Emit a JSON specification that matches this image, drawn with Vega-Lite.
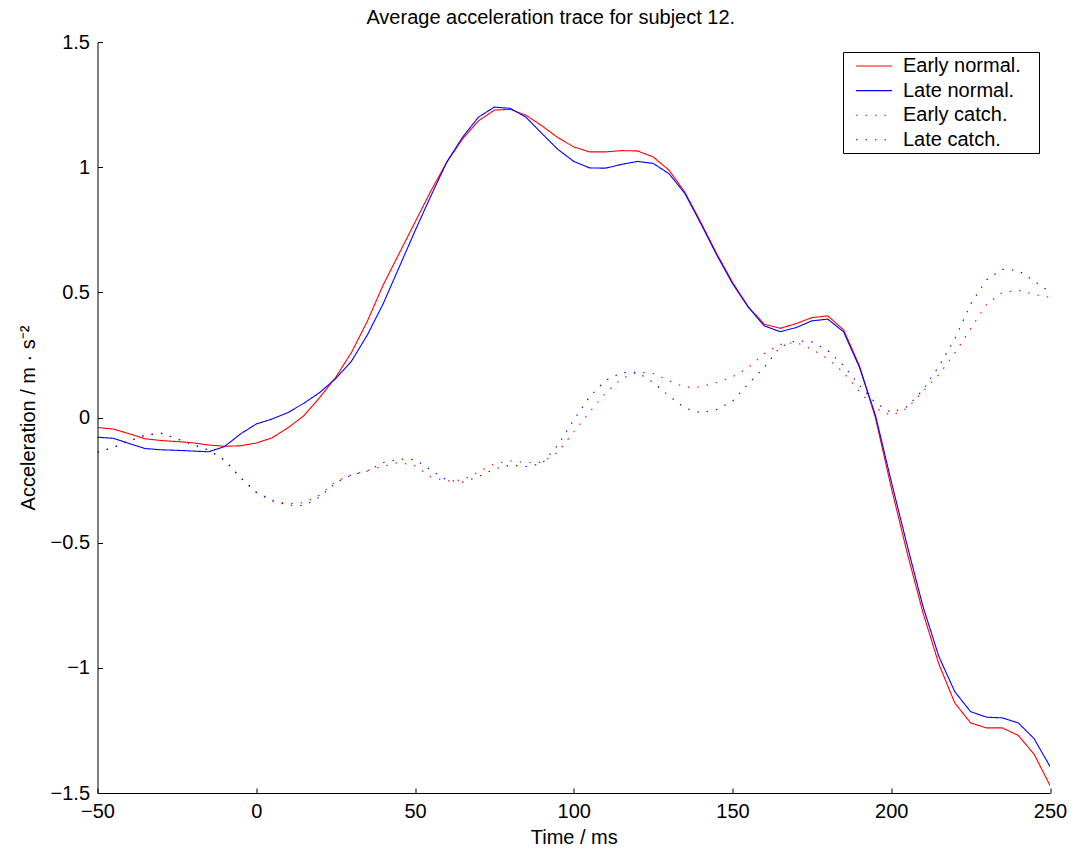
{
 "$schema": "https://vega.github.io/schema/vega-lite/v6.json",
 "autosize": {"type": "none"},
 "width": 952.5,
 "height": 751,
 "padding": {"left": 97.5, "top": 42, "right": 26, "bottom": 57},
 "background": "white",
 "title": {"text": "Average acceleration trace for subject 12.", "fontSize": 20, "font": "Liberation Sans", "fontWeight": "normal", "color": "black", "anchor": "middle", "offset": 4, "dx": -23},
 "config": {"view": {"stroke": null}, "font": "Liberation Sans"},
 "data": {"values": [
  {"t": -50, "en": -0.040, "ln": -0.079, "ec": -0.139, "lc": -0.139},
  {"t": -45, "en": -0.046, "ln": -0.083, "ec": -0.120, "lc": -0.120},
  {"t": -40, "en": -0.065, "ln": -0.104, "ec": -0.093, "lc": -0.093},
  {"t": -35, "en": -0.085, "ln": -0.124, "ec": -0.071, "lc": -0.071},
  {"t": -30, "en": -0.092, "ln": -0.129, "ec": -0.062, "lc": -0.063},
  {"t": -25, "en": -0.096, "ln": -0.131, "ec": -0.085, "lc": -0.085},
  {"t": -20, "en": -0.101, "ln": -0.134, "ec": -0.107, "lc": -0.108},
  {"t": -15, "en": -0.110, "ln": -0.137, "ec": -0.130, "lc": -0.130},
  {"t": -10, "en": -0.115, "ln": -0.116, "ec": -0.170, "lc": -0.170},
  {"t": -5, "en": -0.113, "ln": -0.066, "ec": -0.240, "lc": -0.240},
  {"t": 0, "en": -0.102, "ln": -0.026, "ec": -0.298, "lc": -0.300},
  {"t": 5, "en": -0.081, "ln": -0.006, "ec": -0.330, "lc": -0.333},
  {"t": 10, "en": -0.041, "ln": 0.020, "ec": -0.345, "lc": -0.350},
  {"t": 15, "en": 0.007, "ln": 0.057, "ec": -0.340, "lc": -0.352},
  {"t": 20, "en": 0.080, "ln": 0.100, "ec": -0.310, "lc": -0.318},
  {"t": 25, "en": 0.160, "ln": 0.155, "ec": -0.255, "lc": -0.260},
  {"t": 30, "en": 0.260, "ln": 0.225, "ec": -0.229, "lc": -0.230},
  {"t": 35, "en": 0.385, "ln": 0.330, "ec": -0.212, "lc": -0.214},
  {"t": 40, "en": 0.530, "ln": 0.455, "ec": -0.195, "lc": -0.180},
  {"t": 45, "en": 0.655, "ln": 0.600, "ec": -0.179, "lc": -0.166},
  {"t": 50, "en": 0.780, "ln": 0.745, "ec": -0.193, "lc": -0.168},
  {"t": 55, "en": 0.905, "ln": 0.885, "ec": -0.237, "lc": -0.210},
  {"t": 60, "en": 1.020, "ln": 1.020, "ec": -0.254, "lc": -0.250},
  {"t": 65, "en": 1.113, "ln": 1.120, "ec": -0.250, "lc": -0.258},
  {"t": 70, "en": 1.185, "ln": 1.200, "ec": -0.217, "lc": -0.236},
  {"t": 75, "en": 1.228, "ln": 1.240, "ec": -0.185, "lc": -0.206},
  {"t": 80, "en": 1.231, "ln": 1.235, "ec": -0.173, "lc": -0.190},
  {"t": 85, "en": 1.207, "ln": 1.199, "ec": -0.180, "lc": -0.196},
  {"t": 90, "en": 1.165, "ln": 1.134, "ec": -0.179, "lc": -0.184},
  {"t": 95, "en": 1.118, "ln": 1.071, "ec": -0.138, "lc": -0.110},
  {"t": 100, "en": 1.081, "ln": 1.023, "ec": -0.058, "lc": -0.010},
  {"t": 105, "en": 1.061, "ln": 0.997, "ec": 0.022, "lc": 0.083},
  {"t": 110, "en": 1.061, "ln": 0.996, "ec": 0.097, "lc": 0.148},
  {"t": 115, "en": 1.066, "ln": 1.011, "ec": 0.155, "lc": 0.179},
  {"t": 120, "en": 1.065, "ln": 1.023, "ec": 0.181, "lc": 0.181},
  {"t": 125, "en": 1.041, "ln": 1.015, "ec": 0.176, "lc": 0.140},
  {"t": 130, "en": 0.988, "ln": 0.974, "ec": 0.147, "lc": 0.086},
  {"t": 135, "en": 0.900, "ln": 0.895, "ec": 0.121, "lc": 0.038},
  {"t": 140, "en": 0.780, "ln": 0.775, "ec": 0.122, "lc": 0.019},
  {"t": 145, "en": 0.655, "ln": 0.650, "ec": 0.140, "lc": 0.032},
  {"t": 150, "en": 0.540, "ln": 0.535, "ec": 0.162, "lc": 0.065},
  {"t": 155, "en": 0.442, "ln": 0.440, "ec": 0.200, "lc": 0.135},
  {"t": 160, "en": 0.373, "ln": 0.366, "ec": 0.255, "lc": 0.200},
  {"t": 165, "en": 0.356, "ln": 0.343, "ec": 0.292, "lc": 0.282},
  {"t": 170, "en": 0.375, "ln": 0.359, "ec": 0.300, "lc": 0.307},
  {"t": 175, "en": 0.399, "ln": 0.386, "ec": 0.273, "lc": 0.302},
  {"t": 180, "en": 0.406, "ln": 0.393, "ec": 0.235, "lc": 0.268},
  {"t": 185, "en": 0.350, "ln": 0.342, "ec": 0.180, "lc": 0.207},
  {"t": 190, "en": 0.206, "ln": 0.200, "ec": 0.103, "lc": 0.128},
  {"t": 195, "en": 0.000, "ln": 0.010, "ec": 0.037, "lc": 0.058},
  {"t": 200, "en": -0.280, "ln": -0.255, "ec": 0.008, "lc": 0.020},
  {"t": 205, "en": -0.540, "ln": -0.510, "ec": 0.037, "lc": 0.043},
  {"t": 210, "en": -0.780, "ln": -0.755, "ec": 0.104, "lc": 0.110},
  {"t": 215, "en": -0.985, "ln": -0.955, "ec": 0.171, "lc": 0.205},
  {"t": 220, "en": -1.140, "ln": -1.095, "ec": 0.257, "lc": 0.313},
  {"t": 225, "en": -1.220, "ln": -1.175, "ec": 0.355, "lc": 0.453},
  {"t": 230, "en": -1.240, "ln": -1.197, "ec": 0.452, "lc": 0.550},
  {"t": 235, "en": -1.240, "ln": -1.200, "ec": 0.500, "lc": 0.592},
  {"t": 240, "en": -1.270, "ln": -1.220, "ec": 0.508, "lc": 0.587},
  {"t": 245, "en": -1.345, "ln": -1.283, "ec": 0.492, "lc": 0.545},
  {"t": 250, "en": -1.470, "ln": -1.394, "ec": 0.480, "lc": 0.502}
 ]},
 "transform": [{"fold": ["en", "ln", "ec", "lc"], "as": ["series", "v"]}],
 "mark": {"type": "line", "strokeWidth": 1.1, "interpolate": "linear", "clip": true},
 "encoding": {
  "x": {"field": "t", "type": "quantitative",
   "scale": {"domain": [-50, 250], "nice": false, "zero": false},
   "axis": {"values": [-50, 0, 50, 100, 150, 200, 250], "title": "Time / ms", "grid": false, "tickSize": -5,
    "domainColor": "black", "tickColor": "black", "labelColor": "black", "labelFontSize": 20, "labelFont": "Liberation Sans",
    "titleFontSize": 20, "titleFont": "Liberation Sans", "titleFontWeight": "normal", "titleColor": "black",
    "labelPadding": 13, "titlePadding": 6, "labelFlush": false, "labelOverlap": false}},
  "y": {"field": "v", "type": "quantitative",
   "scale": {"domain": [-1.5, 1.5], "nice": false, "zero": false},
   "axis": {"values": [-1.5, -1, -0.5, 0, 0.5, 1, 1.5], "format": "~g", "title": "Acceleration / m · s⁻²", "grid": false, "tickSize": -5,
    "domainColor": "black", "tickColor": "black", "labelColor": "black", "labelFontSize": 20, "labelFont": "Liberation Sans",
    "titleFontSize": 20, "titleFont": "Liberation Sans", "titleFontWeight": "normal", "titleColor": "black",
    "labelPadding": 13, "titlePadding": 12, "labelFlush": false, "labelOverlap": false}},
  "color": {"field": "series", "type": "nominal",
   "scale": {"domain": ["en", "ln", "ec", "lc"], "range": ["#ff0000", "#0000ff", "#ff0000", "#0000ff"]},
   "legend": {"orient": "none", "legendX": 745.5, "legendY": 10, "title": null, "symbolType": "M-1.8,0H1.8", "symbolSize": 400,
    "symbolStrokeWidth": 1.1, "symbolFillColor": "transparent", "labelFontSize": 20, "labelFont": "Liberation Sans", "labelColor": "black",
    "strokeColor": "black", "fillColor": "white", "padding": 3, "symbolOffset": 17, "labelOffset": 18, "rowPadding": 3.6, "labelLimit": 250,
    "labelExpr": "datum.label == 'en' ? 'Early normal.\u2800' : datum.label == 'ln' ? 'Late normal.' : datum.label == 'ec' ? 'Early catch.' : 'Late catch.'"}},
  "strokeDash": {"field": "series", "type": "nominal",
   "scale": {"domain": ["en", "ln", "ec", "lc"], "range": [[1, 0], [1, 0], [1.5, 8], [1.5, 8]]}}
 }
}
